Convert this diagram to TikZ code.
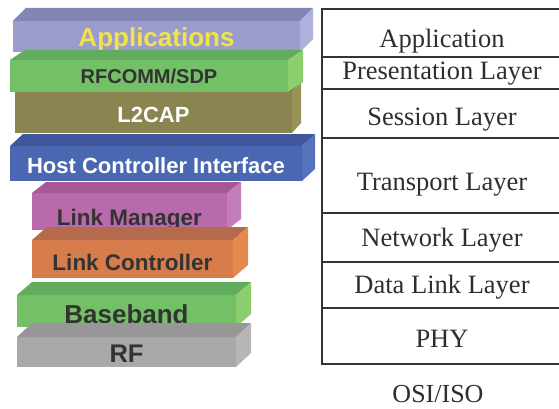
\documentclass[tikz,border=0pt]{standalone}
\usepackage{fontspec}
\setmainfont{Liberation Serif}
\newfontfamily\arialfont{Liberation Sans}
\usetikzlibrary{positioning}

\definecolor{appfront}{HTML}{9A9DCB}
\definecolor{apptop}{HTML}{8286B4}
\definecolor{appside}{HTML}{AEB1DC}
\definecolor{apptext}{HTML}{F2E34A}
\definecolor{grnfront}{HTML}{74C067}
\definecolor{grntop}{HTML}{62AC5E}
\definecolor{grnside}{HTML}{8CCD6E}
\definecolor{olvfront}{HTML}{8A8450}
\definecolor{olvtop}{HTML}{7D7848}
\definecolor{olvside}{HTML}{9A9358}
\definecolor{hcifront}{HTML}{4A67B2}
\definecolor{hcitop}{HTML}{40579E}
\definecolor{hciside}{HTML}{5672BC}
\definecolor{lmfront}{HTML}{B96AAB}
\definecolor{lmtop}{HTML}{A75696}
\definecolor{lmside}{HTML}{C37DB8}
\definecolor{lcfront}{HTML}{D77C4B}
\definecolor{lctop}{HTML}{B56A4C}
\definecolor{lcside}{HTML}{E5894F}
\definecolor{rffront}{HTML}{A9A9A9}
\definecolor{rftop}{HTML}{979797}
\definecolor{rfside}{HTML}{B6B6B6}
\definecolor{darktext}{HTML}{333333}
\definecolor{osiline}{HTML}{333333}
\definecolor{ositext}{HTML}{2E2E2E}

% top and side face of a slab: name, dx, dy, top colour, side colour
\newcommand{\slabfaces}[5]{%
  \fill[#4] (#1.north west) -- (#1.north east) -- ([shift={(#2,-#3)}]#1.north east)
    -- ([shift={(#2,-#3)}]#1.north west) -- cycle;
  \fill[#5] (#1.north east) -- ([shift={(#2,-#3)}]#1.north east)
    -- ([shift={(#2,-#3)}]#1.south east) -- (#1.south east) -- cycle;
}

\tikzset{
  slab/.style={fill=#1, inner sep=0pt, outer sep=0pt},
  bt/.style={font=\arialfont\bfseries\fontsize{#1}{#1}\selectfont},
  bl/.style={text depth=0pt, text height=#1},
  osicell/.style={draw=osiline, line width=2pt, minimum width=240pt,
    inner sep=0pt, outer sep=0pt, text=ositext,
    font=\fontsize{26.5}{30}\selectfont, bl=#1}
}

\begin{document}
\begin{tikzpicture}[x=1pt,y=-1pt]
\useasboundingbox (0,0) rectangle (559,409);

% Bluetooth stack
\node[slab=appfront, bt=26, bl=21pt, text=apptext, minimum width=287pt, minimum height=31pt] (app) at (156.5,36.5) {Applications};
\slabfaces{app}{13}{13}{apptop}{appside}
\node[slab=olvfront, bt=22, bl=19pt, text=white, minimum width=277pt, minimum height=41pt] (l2cap) at (153.5,112.5) {L2CAP};
\slabfaces{l2cap}{9}{10}{olvtop}{olvside}
\node[slab=grnfront, bt=20, bl=16pt, text=darktext, minimum width=278pt, minimum height=32pt] (rfcomm) at (149,76) {RFCOMM/SDP};
\slabfaces{rfcomm}{15}{10}{grntop}{grnside}
\node[slab=hcifront, bt=22, bl=19pt, text=white, minimum width=292pt, minimum height=35pt] (hci) at (156,163.5) {Host Controller Interface};
\slabfaces{hci}{13}{12}{hcitop}{hciside}
\node[slab=lmfront, bt=22.5, bl=27pt, text=darktext, minimum width=195pt, minimum height=37pt] (lm) at (129.5,211.5) {Link Manager};
\slabfaces{lm}{14}{11}{lmtop}{lmside}
\node[slab=lcfront, bt=22.5, bl=22pt, text=darktext, minimum width=201pt, minimum height=38pt] (lc) at (132.5,259) {Link Controller};
\slabfaces{lc}{15}{13}{lctop}{lcside}
\node[slab=grnfront, bt=26, bl=24pt, text=darktext, minimum width=219pt, minimum height=32pt] (bb) at (126.5,311) {Baseband};
\slabfaces{bb}{15}{13}{grntop}{grnside}
\node[slab=rffront, bt=25.5, bl=20pt, text=darktext, minimum width=219pt, minimum height=30pt] (rf) at (126.5,352) {RF};
\slabfaces{rf}{15}{14}{rftop}{rfside}

% OSI reference model
\node[osicell=30pt, anchor=north, minimum height=48pt] (application) at (442,9) {Application};
\node[osicell=14pt, minimum height=32pt, below=0pt of application] (presentation) {Presentation Layer};
\node[osicell=23pt, minimum height=49pt, below=0pt of presentation] (session) {Session Layer};
\node[osicell=29pt, minimum height=75pt, below=0pt of session] (transport) {Transport Layer};
\node[osicell=17pt, minimum height=49pt, below=0pt of transport] (network) {Network Layer};
\node[osicell=16pt, minimum height=46pt, below=0pt of network] (datalink) {Data Link Layer};
\node[osicell=22pt, minimum height=56pt, below=0pt of datalink] (phy) {PHY};
\node[font=\fontsize{26}{30}\selectfont, text=ositext, anchor=base] (osiiso) at (438,402) {OSI/ISO};
\end{tikzpicture}
\end{document}
